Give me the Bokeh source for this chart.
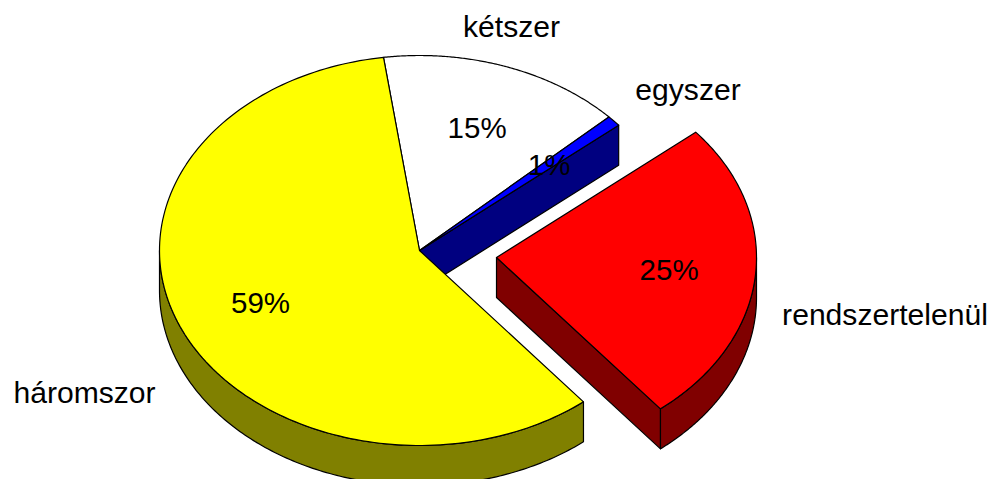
import numpy as np
from bokeh.plotting import figure
from bokeh.embed import file_html
from bokeh.resources import INLINE
from bokeh.core.properties import value

# chart data (clockwise, as in the pie, starting at rendszertelenül)
categories = ["rendszertelenül", "háromszor", "kétszer", "egyszer"]
shares = [25.25, 58.65, 15.2, 0.9]
tops = ["#ff0000", "#ffff00", "#ffffff", "#0000ff"]
walls = ["#800000", "#808000", "#808080", "#000080"]

# layout
W, H = 993, 479
CX, CY, RX, RY, DEPTH = 419, 250, 260, 195, 40
START = 50.0          # degrees clockwise from top
EXPLODE = (77, 7)     # offset of the first slice
LABEL_R = 0.667
name_pos = {"rendszertelenül": (884.5, 314), "háromszor": (84, 392),
            "kétszer": (511, 26), "egyszer": (687.5, 89)}

p = figure(width=W, height=H, x_range=(0, W), y_range=(H, 0),
           toolbar_location=None, output_backend="svg", min_border=0,
           outline_line_color=None)
p.axis.visible = False
p.grid.visible = False

total = sum(shares)
spans = []
a = START
for s in shares:
    b = a + 360.0 * s / total
    spans.append((a, b))
    a = b


def rim(a0, a1, cx, cy, n=160):
    t = np.radians(np.linspace(a0, a1, n))
    return cx + RX * np.sin(t), cy - RY * np.cos(t)


def patch(xs, ys, color):
    p.patch(list(xs), list(ys), fill_color=color, line_color="black", line_width=1.2,
            line_join="round")


def top(i, cx, cy):
    x, y = rim(*spans[i], cx, cy)
    patch(np.r_[cx, x], np.r_[cy, y], tops[i])


def cut_face(a0, cx, cy):
    t = np.radians(a0)
    ex, ey = cx + RX * np.sin(t), cy - RY * np.cos(t)
    return [cx, ex, ex, cx], [cy, ey, ey + DEPTH, cy + DEPTH]


def outer_wall(a0, a1, cx, cy, color):
    x, y = rim(a0, a1, cx, cy)
    patch(np.r_[x, x[::-1]], np.r_[y, y[::-1] + DEPTH], color)


i_red, i_yel, i_wht, i_blu = 0, 1, 2, 3
# single percent slice: its front cut face
xs, ys = cut_face(spans[i_blu][1], CX, CY)
patch(xs, ys, walls[i_blu])
top(i_wht, CX, CY)
top(i_blu, CX, CY)
# yellow slice: visible rim runs from its start to the left extreme
outer_wall(spans[i_yel][0], 270, CX, CY, walls[i_yel])
top(i_yel, CX, CY)
# exploded slice
rx0, ry0 = CX + EXPLODE[0], CY + EXPLODE[1]
xs, ys = cut_face(spans[i_red][1], rx0, ry0)
patch(xs, ys, walls[i_red])
outer_wall(90, spans[i_red][1], rx0, ry0, walls[i_red])
top(i_red, rx0, ry0)

# labels
lx, ly, lt, nx, ny, nt = [], [], [], [], [], []
for i, (cat, s) in enumerate(zip(categories, shares)):
    m = np.radians(sum(spans[i]) / 2)
    cx, cy = (rx0, ry0) if i == i_red else (CX, CY)
    lx.append(cx + LABEL_R * RX * np.sin(m))
    ly.append(cy - LABEL_R * RY * np.cos(m))
    lt.append(f"{round(s)}%")
    nx.append(name_pos[cat][0])
    ny.append(name_pos[cat][1])
    nt.append(cat)
p.text(lx, ly, text=lt, text_font=value("Liberation Sans"), text_font_size="29.5px",
       text_color="black", text_align="center", text_baseline="middle")
p.text(nx, ny, text=nt, text_font=value("Liberation Sans"), text_font_size="30.1px",
       text_color="black", text_align="center", text_baseline="middle")

open("out.html", "w").write(file_html(p, INLINE))
